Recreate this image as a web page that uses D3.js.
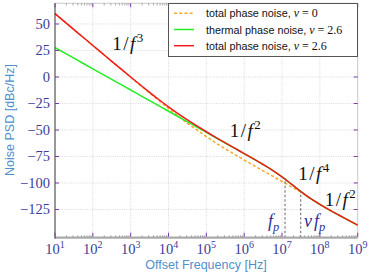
<!DOCTYPE html>
<html><head><meta charset="utf-8">
<script src="https://cdn.jsdelivr.net/npm/d3@7"></script>
<style>html,body{margin:0;padding:0;background:#fff;}svg{display:block;}</style>
</head><body>
<svg id="chart" width="371" height="275"></svg>
<script>
// ---- data ----
const freqExp = [1,1.25,1.5,1.75,2,2.25,2.5,2.75,3,3.25,3.5,3.75,4,4.25,4.5,4.75,5,5.25,5.5,5.75,6,6.25,6.5,6.75,7,7.25,7.5,7.75,8,8.25,8.5,8.75,9];
const totalNu0 = [59.7,52.2,44.7,37.2,29.7,22.2,14.72,7.24,-0.24,-7.69,-15.1,-22.45,-29.7,-36.8,-43.7,-49.9,-56.2,-62.2,-67.75,-73.11,-78.31,-83.43,-88.5,-93.55,-98.6,-103.7,-108.6,-114.62,-120.25,-125.4,-130.2,-135.0,-139.8];
const thermalNu26 = [27.7,22.7,17.7,12.7,7.7,2.7,-2.3,-7.3,-12.3,-17.3,-22.3,-27.3,-32.3,-37.3,-42.3,-47.3,-52.3,-57.3,-62.3,-67.3,-72.33,-77.38,-82.55,-88.02,-94.16,-101.12,-108.23,-114.62,-120.25,-125.4,-130.2,-135.0,-139.8];
const totalNu26 = [59.7,52.2,44.7,37.22,29.73,22.25,14.78,7.35,-0.03,-7.34,-14.51,-21.48,-28.18,-34.54,-40.54,-46.22,-51.66,-56.93,-62.09,-67.18,-72.26,-77.34,-82.55,-88.02,-94.16,-101.12,-108.23,-114.62,-120.25,-125.4,-130.2,-135.0,-139.8];
const yTicks = [-125,-100,-75,-50,-25,0,25,50];
const xTickExp = [1,2,3,4,5,6,7,8,9];
const markerFreq = [1.2e7, 3.12e7];
const markerTop = [-95.5, -108.1];
const legendText = ["total phase noise, ", "thermal phase noise, ", "total phase noise, "];
const legendNu = ["0", "2.6", "2.6"];

// ---- layout ----
const svg = d3.select("#chart");
const x = d3.scaleLog().domain([1e1, 1e9]).range([55, 357.7]);
const y = d3.scaleLinear().domain([-151.6, 69.5]).range([237.7, 3.3]);
const X0 = 55, X1 = 357.7, Y0 = 3.3, Y1 = 237.7;
const tickCol = "#7a3aa8", labCol = "#3c3c98", titleCol = "#4f8fcc";
const serif = "'Liberation Serif','DejaVu Serif',serif";
const sans = "'Liberation Sans',Arial,sans-serif";

// grid
const g = svg.append("g");
xTickExp.slice(1, -1).forEach(e => {
  g.append("line").attr("x1", x(10 ** e)).attr("x2", x(10 ** e)).attr("y1", Y0).attr("y2", Y1)
    .attr("stroke", "#c8c8c8").attr("stroke-width", 0.7).attr("stroke-dasharray", "1,1.3");
});
yTicks.forEach(v => {
  g.append("line").attr("x1", X0).attr("x2", X1).attr("y1", y(v)).attr("y2", y(v))
    .attr("stroke", "#c8c8c8").attr("stroke-width", 0.7).attr("stroke-dasharray", "1,1.3");
});

// frame
svg.append("line").attr("x1", X0).attr("x2", X1).attr("y1", Y0).attr("y2", Y0).attr("stroke", "#bbb").attr("stroke-width", 0.8);
svg.append("line").attr("x1", X1).attr("x2", X1).attr("y1", Y0).attr("y2", Y1).attr("stroke", "#bbb").attr("stroke-width", 0.8);

// minor ticks
const minors = [];
for (let e = 1; e < 9; e++) for (let m = 2; m <= 9; m++) minors.push(m * 10 ** e);
minors.forEach(f => {
  svg.append("line").attr("x1", x(f)).attr("x2", x(f)).attr("y1", Y1).attr("y2", Y1 - 2.2).attr("stroke", "#666").attr("stroke-width", 0.8);
  svg.append("line").attr("x1", x(f)).attr("x2", x(f)).attr("y1", Y0).attr("y2", Y0 + 2.2).attr("stroke", "#888").attr("stroke-width", 0.7);
});

// curves
const line = d3.line().x((d, i) => x(10 ** freqExp[i])).y(d => y(d)).curve(d3.curveMonotoneX);
svg.append("path").datum(totalNu0).attr("d", line).attr("fill", "none").attr("stroke", "#ffa726").attr("stroke-width", 1.5).attr("stroke-dasharray", "3,2.2");
svg.append("path").datum(thermalNu26).attr("d", line).attr("fill", "none").attr("stroke", "#22ee22").attr("stroke-width", 1.5);
svg.append("path").datum(totalNu26).attr("d", line).attr("fill", "none").attr("stroke", "#f01c1c").attr("stroke-width", 1.5);

// marker dashed verticals
markerFreq.forEach((f, i) => {
  svg.append("line").attr("x1", x(f)).attr("x2", x(f)).attr("y1", Y1).attr("y2", y(markerTop[i]))
    .attr("stroke", "#666").attr("stroke-width", 1).attr("stroke-dasharray", "2.5,2");
});

// axes lines
svg.append("line").attr("x1", X0).attr("x2", X1).attr("y1", Y1).attr("y2", Y1).attr("stroke", "#aaa").attr("stroke-width", 2.2);
svg.append("line").attr("x1", X0).attr("x2", X0).attr("y1", Y0).attr("y2", Y1 + 1).attr("stroke", "#333").attr("stroke-width", 1);

// major ticks
xTickExp.forEach(e => {
  const px = x(10 ** e);
  svg.append("line").attr("x1", px).attr("x2", px).attr("y1", Y1 - 1).attr("y2", Y1 - 5).attr("stroke", tickCol).attr("stroke-width", 1);
  svg.append("line").attr("x1", px).attr("x2", px).attr("y1", Y0).attr("y2", Y0 + 4).attr("stroke", tickCol).attr("stroke-width", 1);
  const t = svg.append("text").attr("x", px).attr("y", 253.5).attr("text-anchor", "middle")
    .attr("font-family", serif).attr("font-size", 14.5).attr("fill", labCol);
  t.append("tspan").text("10");
  t.append("tspan").attr("dy", -6).attr("font-size", 10).text(e);
});
yTicks.forEach(v => {
  const py = y(v);
  svg.append("line").attr("x1", X0).attr("x2", X0 + 4).attr("y1", py).attr("y2", py).attr("stroke", tickCol).attr("stroke-width", 1);
  svg.append("line").attr("x1", X1).attr("x2", X1 - 4).attr("y1", py).attr("y2", py).attr("stroke", tickCol).attr("stroke-width", 1);
  svg.append("text").attr("x", 50).attr("y", py + 5).attr("text-anchor", "end")
    .attr("font-family", serif).attr("font-size", 14.5).attr("fill", labCol)
    .text(v < 0 ? "\u2212" + Math.abs(v) : String(v));
});

// axis titles
svg.append("text").attr("x", 206).attr("y", 268.5).attr("text-anchor", "middle")
  .attr("font-family", sans).attr("font-size", 12.5).attr("fill", titleCol).text("Offset Frequency [Hz]");
svg.append("text").attr("transform", "translate(13.5,120) rotate(-90)").attr("text-anchor", "middle")
  .attr("font-family", sans).attr("font-size", 12.5).attr("fill", titleCol).text("Noise PSD [dBc/Hz]");

// slope annotations
function slopeLabel(fx, vy, p) {
  const t = svg.append("text").attr("x", x(fx)).attr("y", y(vy)).attr("font-family", serif)
    .attr("font-size", 19).attr("fill", "#111");
  t.append("tspan").text("1");
  t.append("tspan").attr("dx", 1.5).text("/");
  t.append("tspan").attr("dx", 1.5).attr("font-style", "italic").text("f");
  t.append("tspan").attr("dx", 1.5).attr("dy", -8).attr("font-size", 13).text(p);
}
slopeLabel(10 ** 2.51, 25.5, "3");
slopeLabel(10 ** 5.62, -56.6, "2");
slopeLabel(10 ** 7.43, -97.2, "4");
slopeLabel(10 ** 8.13, -121.7, "2");

// marker labels
{
  const t1 = svg.append("text").attr("x", x(10 ** 6.63)).attr("y", y(-141.2)).attr("font-family", serif)
    .attr("font-size", 18).attr("fill", "#2f2f9a").attr("font-style", "italic");
  t1.append("tspan").text("f");
  t1.append("tspan").attr("dy", 4).attr("font-size", 12.5).text("p");
  const t2 = svg.append("text").attr("x", x(10 ** 7.58)).attr("y", y(-141.2)).attr("font-family", serif)
    .attr("font-size", 18).attr("fill", "#2f2f9a").attr("font-style", "italic");
  t2.append("tspan").text("\u03BD");
  t2.append("tspan").attr("dx", 2).text("f");
  t2.append("tspan").attr("dy", 4).attr("font-size", 12.5).text("p");
}

// legend
const lg = svg.append("g");
lg.append("rect").attr("x", 168.5).attr("y", 3.5).attr("width", 189).attr("height", 53)
  .attr("fill", "#fff").attr("stroke", "#555").attr("stroke-width", 1);
const legStyles = [
  {c: "#ffa726", d: "3,2.2"}, {c: "#22ee22", d: null}, {c: "#f01c1c", d: null}
];
legendText.forEach((s, i) => {
  const ly = 13.3 + i * 16.2;
  const l = lg.append("line").attr("x1", 174).attr("x2", 194).attr("y1", ly).attr("y2", ly)
    .attr("stroke", legStyles[i].c).attr("stroke-width", 1.5);
  if (legStyles[i].d) l.attr("stroke-dasharray", legStyles[i].d);
  const t = lg.append("text").attr("x", 206).attr("y", ly + 4).attr("font-family", sans)
    .attr("font-size", 10.8).attr("fill", "#111");
  t.append("tspan").text(s);
  t.append("tspan").attr("font-family", serif).attr("font-style", "italic").attr("font-size", 12).text("\u03BD");
  t.append("tspan").attr("font-family", serif).attr("font-size", 12).text(" = " + legendNu[i]);
});
</script>
</body></html>
